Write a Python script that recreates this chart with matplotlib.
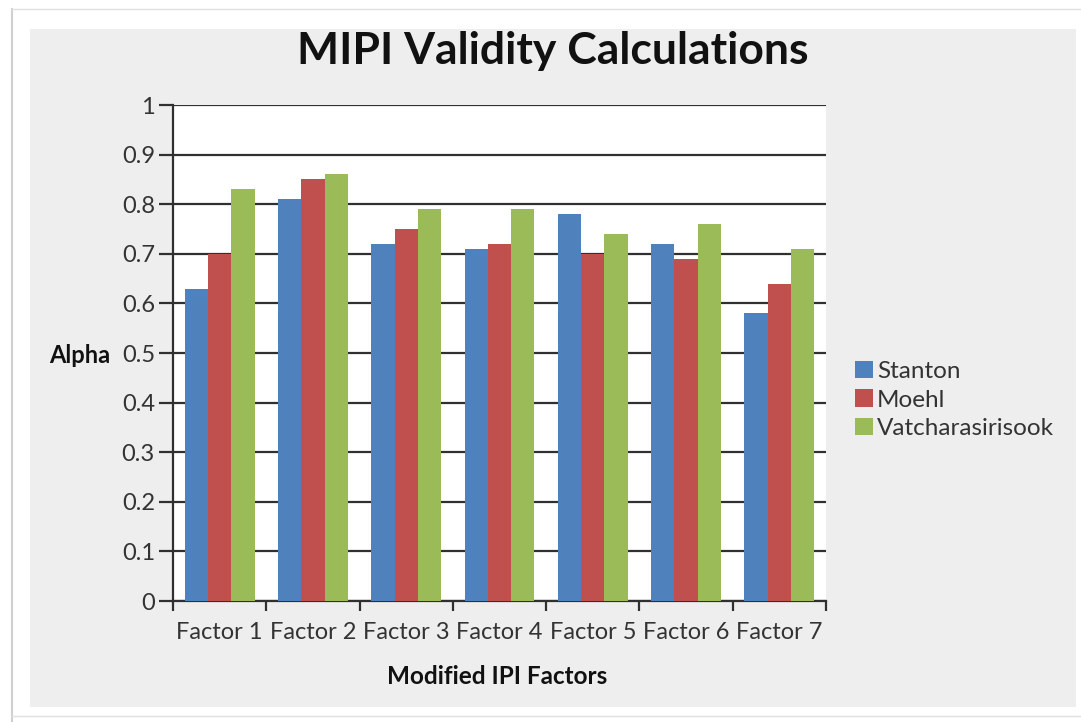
import matplotlib
matplotlib.use("Agg")
import matplotlib.pyplot as plt
import numpy as np
from matplotlib.patches import Rectangle
from matplotlib.lines import Line2D

categories = ["Factor 1", "Factor 2", "Factor 3", "Factor 4", "Factor 5", "Factor 6", "Factor 7"]
stanton = [0.63, 0.81, 0.72, 0.71, 0.78, 0.72, 0.58]
moehl = [0.70, 0.85, 0.75, 0.72, 0.70, 0.69, 0.64]
vatch = [0.83, 0.86, 0.79, 0.79, 0.74, 0.76, 0.71]
series_names = ["Stanton", "Moehl", "Vatcharasirisook"]
colors = ["#4F81BD", "#C0504D", "#9BBB59"]
yticks = [0, 0.1, 0.2, 0.3, 0.4, 0.5, 0.6, 0.7, 0.8, 0.9, 1]
ytick_labels = ["0", "0.1", "0.2", "0.3", "0.4", "0.5", "0.6", "0.7", "0.8", "0.9", "1"]

plt.rcParams['font.family'] = ['Lato', 'DejaVu Sans']

W, H = 1081, 722
fig = plt.figure(figsize=(W / 100, H / 100), dpi=100)
fig.patch.set_facecolor("white")

# outer frame lines
fig.add_artist(Line2D([12 / W, 12 / W], [0, 1 - 9 / H], color="#d0d0d0", lw=1.5))
fig.add_artist(Line2D([12 / W, 1], [1 - 9 / H, 1 - 9 / H], color="#e0e0e0", lw=1.0))
fig.add_artist(Line2D([12 / W, 1], [1 - 716 / H, 1 - 716 / H], color="#e0e0e0", lw=1.0))
# gray chart area
fig.add_artist(Rectangle((30 / W, 1 - 707 / H), 1046 / W, 678 / H,
                         facecolor="#EEEEEE", edgecolor="none", zorder=0))

ax = fig.add_axes([173 / W, 1 - 601 / H, 653 / W, 496 / H])
ax.set_facecolor("white")

x = np.arange(len(categories))
bw = 0.25
for i, (vals, name, c) in enumerate(zip([stanton, moehl, vatch], series_names, colors)):
    ax.bar(x + (i - 1) * bw, vals, width=bw, color=c, label=name, zorder=3)

ax.set_xlim(-0.5, len(categories) - 0.5)
ax.set_ylim(0, 1)
ax.set_yticks(yticks)
ax.set_yticklabels(ytick_labels, fontsize=17, color="#333333")
ax.yaxis.grid(True, color="#303030", lw=1.6, zorder=1)
ax.set_axisbelow(True)

ax.set_xticks(np.arange(len(categories) + 1) - 0.5)
ax.set_xticklabels([])
ax.set_xticks(x, minor=True)
ax.set_xticklabels(categories, minor=True, fontsize=17, color="#333333")
ax.tick_params(axis="x", which="major", length=7, width=1.6, color="#303030", direction="out")
ax.tick_params(axis="x", which="minor", length=0, pad=15)
ax.tick_params(axis="y", length=10, width=1.6, color="#303030", direction="out", pad=3)

for s in ["top", "right"]:
    ax.spines[s].set_visible(False)
ax.spines["left"].set_color("#303030")
ax.spines["left"].set_linewidth(1.6)
ax.spines["bottom"].set_color("#303030")
ax.spines["bottom"].set_linewidth(1.6)

fig.text(553 / W, 1 - 51 / H, "MIPI Validity Calculations", ha="center", va="center",
         fontsize=32, fontweight="bold", color="#111111")
fig.text(80 / W, 1 - 355 / H, "Alpha", ha="center", va="center",
         fontsize=17, fontweight="bold", color="#111111")
fig.text(497 / W, 1 - 677 / H, "Modified IPI Factors", ha="center", va="center",
         fontsize=17.5, fontweight="bold", color="#111111")

leg = fig.legend(loc="center left", bbox_to_anchor=(843 / W, 1 - 400 / H), frameon=False,
                 fontsize=17.5, handlelength=0.75, handleheight=0.7, handletextpad=0.15,
                 labelspacing=0.3, borderpad=0)
for t in leg.get_texts():
    t.set_color("#333333")

fig.savefig("out.png", dpi=100, facecolor=fig.get_facecolor())
